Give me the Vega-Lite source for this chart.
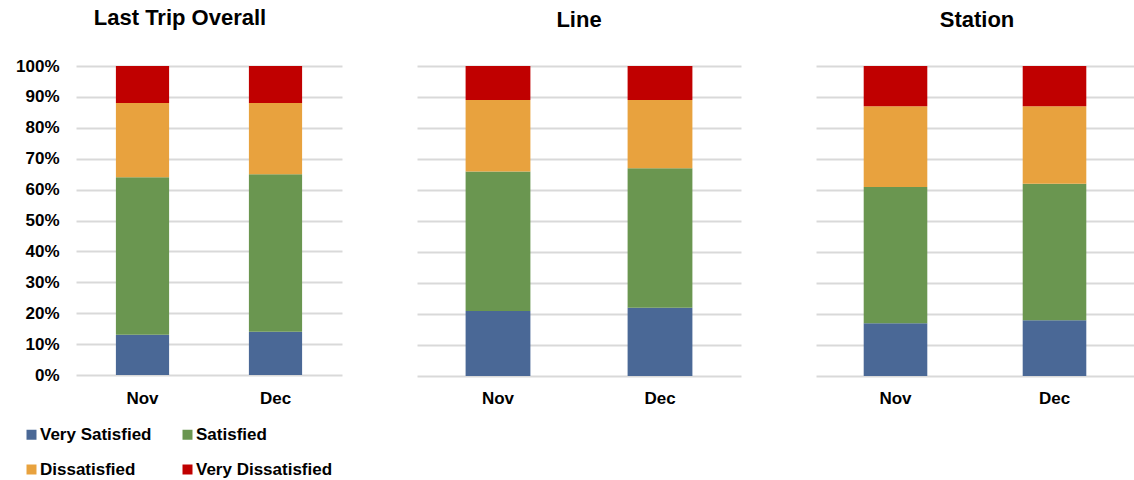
{
  "$schema": "https://vega.github.io/schema/vega-lite/v6.json",
  "padding": {"left": 15, "top": 7, "right": 0, "bottom": 0},
  "background": "white",
  "config": {
    "font": "Liberation Sans",
    "view": {"stroke": null},
    "concat": {"spacing": 75},
    "axis": {
      "labelFont": "Liberation Sans",
      "labelFontWeight": "bold",
      "labelColor": "#000000",
      "labelFontSize": 17,
      "ticks": false,
      "domain": false,
      "title": null,
      "gridColor": "#d9d9d9",
      "gridWidth": 2
    },
    "title": {"font": "Liberation Sans", "fontSize": 22, "fontWeight": "bold", "color": "#000000"},
    "legend": {
      "orient": "none",
      "legendX": -53,
      "legendY": 360,
      "direction": "horizontal",
      "columns": 2,
      "title": null,
      "padding": 0,
      "symbolType": "square",
      "symbolSize": 100,
      "symbolStrokeWidth": 0,
      "labelFont": "Liberation Sans",
      "labelFontSize": 17,
      "labelFontWeight": "bold",
      "labelColor": "#000000",
      "labelOffset": 0,
      "rowPadding": 17,
      "columnPadding": 27
    }
  },
  "datasets": {
    "d": [
      {"panel": "Overall", "month": "Nov", "rating": "Very Satisfied", "pct": 13},
      {"panel": "Overall", "month": "Nov", "rating": "Satisfied", "pct": 51},
      {"panel": "Overall", "month": "Nov", "rating": "Dissatisfied", "pct": 24},
      {"panel": "Overall", "month": "Nov", "rating": "Very Dissatisfied", "pct": 12},
      {"panel": "Overall", "month": "Dec", "rating": "Very Satisfied", "pct": 14},
      {"panel": "Overall", "month": "Dec", "rating": "Satisfied", "pct": 51},
      {"panel": "Overall", "month": "Dec", "rating": "Dissatisfied", "pct": 23},
      {"panel": "Overall", "month": "Dec", "rating": "Very Dissatisfied", "pct": 12},
      {"panel": "Line", "month": "Nov", "rating": "Very Satisfied", "pct": 21},
      {"panel": "Line", "month": "Nov", "rating": "Satisfied", "pct": 45},
      {"panel": "Line", "month": "Nov", "rating": "Dissatisfied", "pct": 23},
      {"panel": "Line", "month": "Nov", "rating": "Very Dissatisfied", "pct": 11},
      {"panel": "Line", "month": "Dec", "rating": "Very Satisfied", "pct": 22},
      {"panel": "Line", "month": "Dec", "rating": "Satisfied", "pct": 45},
      {"panel": "Line", "month": "Dec", "rating": "Dissatisfied", "pct": 22},
      {"panel": "Line", "month": "Dec", "rating": "Very Dissatisfied", "pct": 11},
      {"panel": "Station", "month": "Nov", "rating": "Very Satisfied", "pct": 17},
      {"panel": "Station", "month": "Nov", "rating": "Satisfied", "pct": 44},
      {"panel": "Station", "month": "Nov", "rating": "Dissatisfied", "pct": 26},
      {"panel": "Station", "month": "Nov", "rating": "Very Dissatisfied", "pct": 13},
      {"panel": "Station", "month": "Dec", "rating": "Very Satisfied", "pct": 18},
      {"panel": "Station", "month": "Dec", "rating": "Satisfied", "pct": 44},
      {"panel": "Station", "month": "Dec", "rating": "Dissatisfied", "pct": 25},
      {"panel": "Station", "month": "Dec", "rating": "Very Dissatisfied", "pct": 13}
    ]
  },
  "data": {"name": "d"},
  "transform": [
    {"calculate": "indexof(['Very Satisfied','Satisfied','Dissatisfied','Very Dissatisfied'], datum.rating)", "as": "k"}
  ],
  "hconcat": [
    {
      "width": 266,
      "height": 309,
      "title": {"text": "Last Trip Overall", "offset": 27, "dx": -29},
      "transform": [{"filter": "datum.panel === 'Overall'"}],
      "mark": {"type": "bar"},
      "encoding": {
        "x": {"field": "month", "type": "nominal", "sort": ["Nov", "Dec"], "scale": {"paddingInner": 0.6, "paddingOuter": 0.3}, "axis": {"labelAngle": 0, "labelPadding": 15, "grid": false}},
        "y": {"field": "pct", "type": "quantitative", "stack": "zero", "scale": {"domain": [0, 100], "nice": false}, "axis": {"values": [0, 10, 20, 30, 40, 50, 60, 70, 80, 90, 100], "labelExpr": "datum.value + '%'", "labelPadding": 17}},
        "color": {"field": "rating", "type": "nominal", "scale": {"domain": ["Very Satisfied", "Satisfied", "Dissatisfied", "Very Dissatisfied"], "range": ["#4a6896", "#6a9650", "#e8a23e", "#c00000"]}},
        "order": {"field": "k", "type": "quantitative", "sort": "ascending"}
      }
    },
    {
      "width": 324,
      "height": 310,
      "title": {"text": "Line", "offset": 34},
      "transform": [{"filter": "datum.panel === 'Line'"}],
      "mark": {"type": "bar"},
      "encoding": {
        "x": {"field": "month", "type": "nominal", "sort": ["Nov", "Dec"], "scale": {"paddingInner": 0.6, "paddingOuter": 0.3}, "axis": {"labelAngle": 0, "labelPadding": 14, "grid": false}},
        "y": {"field": "pct", "type": "quantitative", "stack": "zero", "scale": {"domain": [0, 100], "nice": false}, "axis": {"values": [0, 10, 20, 30, 40, 50, 60, 70, 80, 90, 100], "labels": false}},
        "color": {"field": "rating", "type": "nominal", "scale": {"domain": ["Very Satisfied", "Satisfied", "Dissatisfied", "Very Dissatisfied"], "range": ["#4a6896", "#6a9650", "#e8a23e", "#c00000"]}},
        "order": {"field": "k", "type": "quantitative", "sort": "ascending"}
      }
    },
    {
      "width": 318,
      "height": 310,
      "title": {"text": "Station", "offset": 34, "dx": 2},
      "transform": [{"filter": "datum.panel === 'Station'"}],
      "mark": {"type": "bar"},
      "encoding": {
        "x": {"field": "month", "type": "nominal", "sort": ["Nov", "Dec"], "scale": {"paddingInner": 0.6, "paddingOuter": 0.3}, "axis": {"labelAngle": 0, "labelPadding": 14, "grid": false}},
        "y": {"field": "pct", "type": "quantitative", "stack": "zero", "scale": {"domain": [0, 100], "nice": false}, "axis": {"values": [0, 10, 20, 30, 40, 50, 60, 70, 80, 90, 100], "labels": false}},
        "color": {"field": "rating", "type": "nominal", "scale": {"domain": ["Very Satisfied", "Satisfied", "Dissatisfied", "Very Dissatisfied"], "range": ["#4a6896", "#6a9650", "#e8a23e", "#c00000"]}},
        "order": {"field": "k", "type": "quantitative", "sort": "ascending"}
      }
    }
  ]
}
